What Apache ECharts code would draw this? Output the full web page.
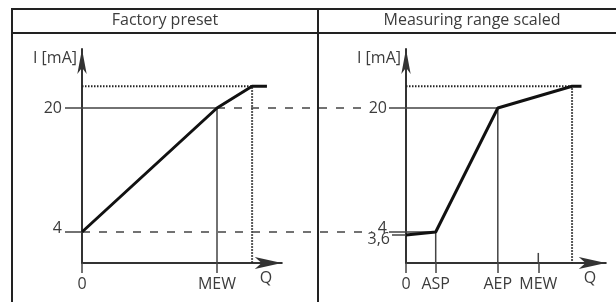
<!DOCTYPE html>
<html>
<head>
<meta charset="utf-8">
<script src="https://cdn.jsdelivr.net/npm/echarts@6/dist/echarts.min.js"></script>
<style>
html, body { margin: 0; padding: 0; background: #fff; }
#chart { width: 616px; height: 302px; }
</style>
</head>
<body>
<div id="chart"></div>
<script>
// panel headers
const panelTitles = ['Factory preset', 'Measuring range scaled'];

// left panel: factory preset (Q in % of MEW, I in mA)
const leftCurve = [[0, 4], [100, 20], [126, 22.8], [137, 22.8]];
const leftXTicks = [0, 100];
const leftXLabels = ['0', 'MEW'];
const leftYTicks = [4, 20];

// right panel: measuring range scaled
const rightCurve = [[0, 3.6], [22, 4], [68, 20], [123, 22.8], [130, 22.8]];
const rightXTicks = [0, 22, 68, 98];
const rightXLabels = ['0', 'ASP', 'AEP', 'MEW'];
const rightYTicks = [4, 20];
const rightYTicksLow = [3.6];

// guide lines
const leftGuide20 = [[0, 20], [100, 20], [100, 0]];
const leftDotted = [[0, 22.8], [126, 22.8], [126, 0]];
const rightGuide20 = [[0, 20], [68, 20], [68, 0]];
const rightGuide4 = [[0, 4], [22, 4], [22, 0]];
const rightDotted = [[0, 22.8], [123, 22.8], [123, 0]];
const rightMewMark = [[98, 0], [98, 1.3]];
// dashed links between the panels (left-panel Q units)
const dash20 = [[100, 20], [212, 20]];
const dash4 = [[0, 4], [215, 4]];

// axis ends sit at the arrow tips
const xMax = 148, yMax = 27.6, linkMax = 240;

const textColor = '#3c3c3c';
const axisColor = '#333';
const guideColor = '#444';
const font = 'Open Sans';

function xAxisFor(grid, ticks, labels) {
  return {
    type: 'value', gridIndex: grid, min: 0, max: xMax,
    name: 'Q', nameLocation: 'end', nameGap: -22,
    nameTextStyle: {fontSize: 16, fontFamily: font, color: textColor, align: 'left', verticalAlign: 'top', padding: [7, 0, 0, 0]},
    axisLine: {show: true, lineStyle: {color: axisColor, width: 2}, symbol: ['none', 'arrow'], symbolSize: [9, 27]},
    axisTick: {show: true, customValues: ticks, length: 10, lineStyle: {color: guideColor, width: 1.5}},
    axisLabel: {
      customValues: ticks, margin: 13, fontSize: 16, fontFamily: font, color: textColor,
      formatter: v => labels[ticks.indexOf(v)]
    },
    splitLine: {show: false}
  };
}

const richLabels = {
  up: {fontSize: 16, fontFamily: font, color: textColor, padding: [0, 0, 7, 0]},
  dn: {fontSize: 16, fontFamily: font, color: textColor, padding: [9, 0, 0, 0]}
};

function yAxisFor(grid, ticks, margin) {
  return {
    type: 'value', gridIndex: grid, min: 0, max: yMax, position: 'left',
    name: 'I [mA]', nameLocation: 'end', nameGap: -9,
    nameTextStyle: {fontSize: 16, fontFamily: font, color: textColor, align: 'right', verticalAlign: 'middle', padding: [0, 5, 0, 0]},
    axisLine: {show: true, lineStyle: {color: axisColor, width: 2}, symbol: ['none', 'arrow'], symbolSize: [7, 25]},
    axisTick: {show: true, customValues: ticks, length: 17, lineStyle: {color: guideColor, width: 1.5}},
    axisLabel: {
      customValues: ticks, margin: margin, fontSize: 16, fontFamily: font, color: textColor,
      formatter: v => (v === 4 ? '{up|4}' : String(v)),
      rich: richLabels
    },
    splitLine: {show: false}
  };
}

function lineSeries(grid, data, style) {
  return {
    type: 'line', xAxisIndex: grid, yAxisIndex: grid, data: data,
    symbol: 'none', clip: false, silent: true, animation: false,
    lineStyle: style
  };
}

const solidGuide = {color: guideColor, width: 1.5};
const dashed = {color: guideColor, width: 1.5, type: [8, 9]};
const dotted = {color: '#222', width: 2, type: [1.5, 1.5]};
const curve = {color: '#111', width: 3};

const gridTop = 49.1, gridHeight = 213.9, panelWidth = 199.8;

let myChart = echarts.init(document.getElementById('chart'));
myChart.setOption({
  backgroundColor: '#fff',
  animation: false,
  title: [
    {text: panelTitles[0], left: 165, top: 12, padding: 0, textAlign: 'center',
     textStyle: {fontSize: 16, fontWeight: 'normal', fontFamily: font, color: textColor}},
    {text: panelTitles[1], left: 472, top: 12, padding: 0, textAlign: 'center',
     textStyle: {fontSize: 16, fontWeight: 'normal', fontFamily: font, color: textColor}}
  ],
  // table frame
  graphic: [
    {type: 'line', shape: {x1: 12, y1: 9, x2: 616, y2: 9}, style: {stroke: '#222', lineWidth: 2}},
    {type: 'line', shape: {x1: 12, y1: 33, x2: 616, y2: 33}, style: {stroke: '#222', lineWidth: 2}},
    {type: 'line', shape: {x1: 12, y1: 8, x2: 12, y2: 302}, style: {stroke: '#222', lineWidth: 2}},
    {type: 'line', shape: {x1: 318, y1: 8, x2: 318, y2: 302}, style: {stroke: '#222', lineWidth: 2}}
  ],
  grid: [
    {left: 82, top: gridTop, width: panelWidth, height: gridHeight},
    {left: 406, top: gridTop, width: panelWidth, height: gridHeight},
    // overlay spanning both panels, same scale as the left one
    {left: 82, top: gridTop, width: 324, height: gridHeight}
  ],
  xAxis: [
    xAxisFor(0, leftXTicks, leftXLabels),
    xAxisFor(1, rightXTicks, rightXLabels),
    {type: 'value', gridIndex: 2, min: 0, max: linkMax, show: false}
  ],
  yAxis: [
    yAxisFor(0, leftYTicks, 20),
    yAxisFor(1, rightYTicks, 19),
    {type: 'value', gridIndex: 2, min: 0, max: yMax, show: false},
    {
      type: 'value', gridIndex: 1, min: 0, max: yMax, position: 'left',
      axisLine: {show: false},
      axisTick: {show: true, customValues: rightYTicksLow, length: 14, lineStyle: {color: guideColor, width: 1.5}},
      axisLabel: {
        customValues: rightYTicksLow, margin: 16, fontSize: 16, fontFamily: font, color: textColor,
        formatter: v => '{dn|' + String(v).replace('.', ',') + '}',
        rich: richLabels
      },
      splitLine: {show: false}
    }
  ],
  series: [
    lineSeries(0, leftGuide20, solidGuide),
    lineSeries(0, leftDotted, dotted),
    lineSeries(2, dash20, dashed),
    lineSeries(2, dash4, dashed),
    lineSeries(0, leftCurve, curve),
    lineSeries(1, rightGuide20, solidGuide),
    lineSeries(1, rightGuide4, solidGuide),
    lineSeries(1, rightDotted, dotted),
    lineSeries(1, rightMewMark, solidGuide),
    lineSeries(1, rightCurve, curve)
  ]
});
</script>
</body>
</html>
